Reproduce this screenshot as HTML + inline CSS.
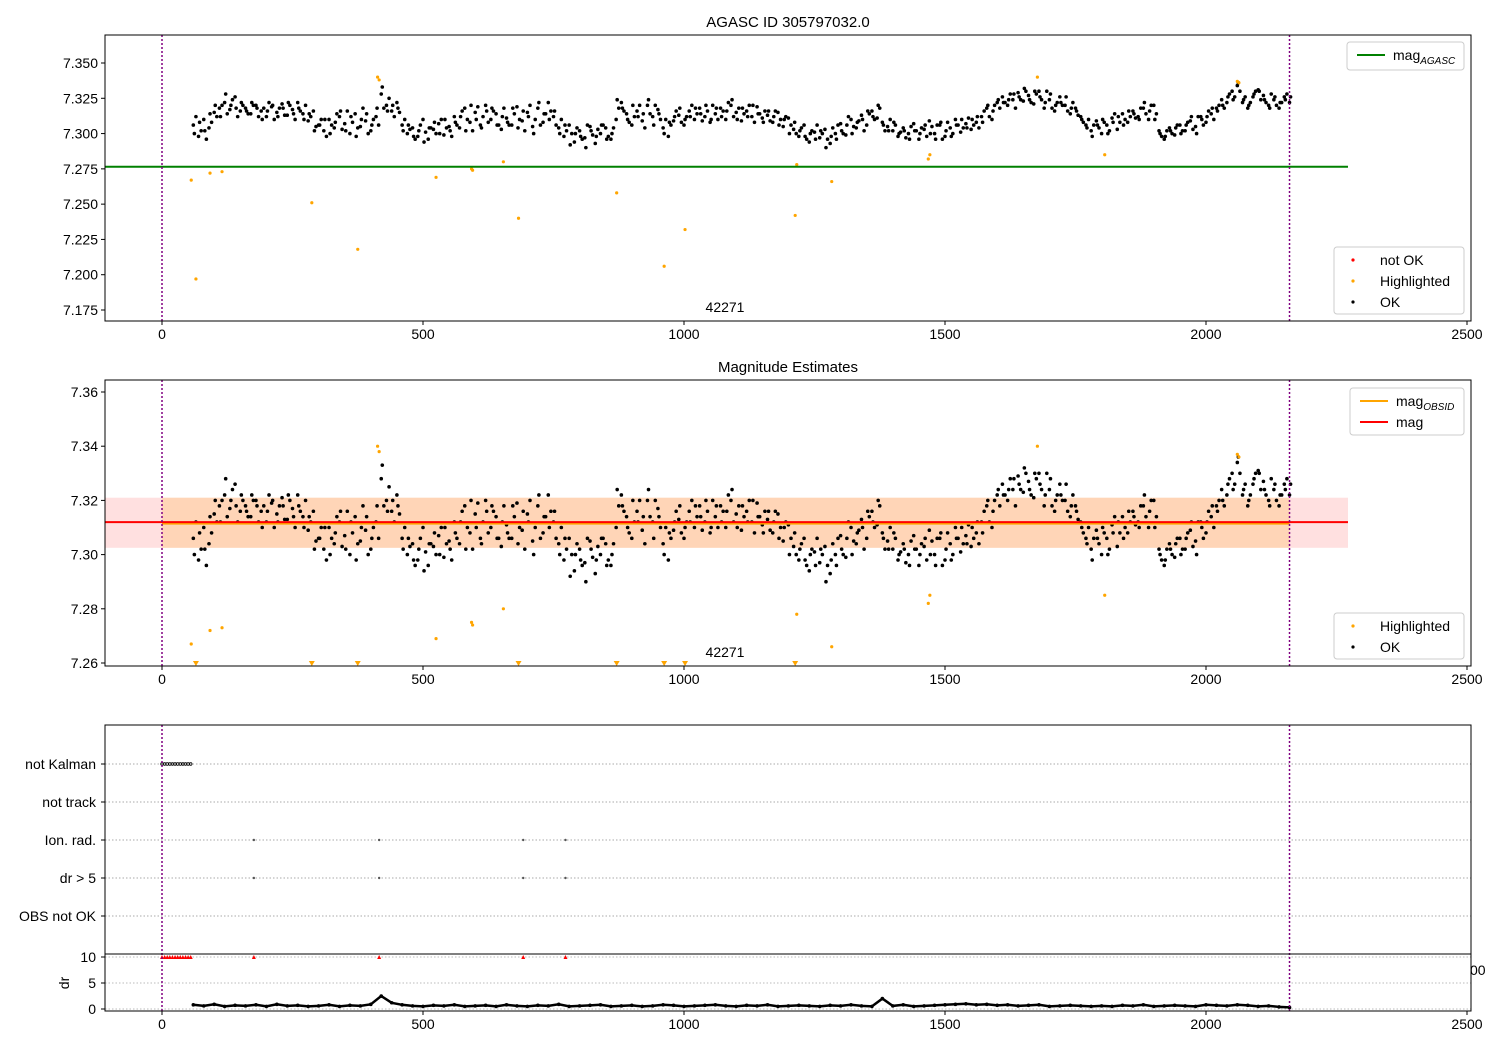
<!DOCTYPE html>
<html><head><meta charset="utf-8"><style>
body{margin:0;background:#fff}
svg text{font-family:"Liberation Sans","DejaVu Sans",sans-serif;font-size:14px;fill:#000}
</style></head><body>
<svg id="c" width="1500" height="1050" xmlns="http://www.w3.org/2000/svg"></svg>
<script>
const xsA0=60, xsB0=65, xsC0=62, xStep=10;
const magA=[7.306,7.298,7.310,7.304,7.315,7.318,7.322,7.317,7.326,7.316,
7.318,7.314,7.320,7.316,7.312,7.319,7.315,7.321,7.313,7.317,
7.322,7.314,7.309,7.316,7.306,7.302,7.310,7.304,7.312,7.307,
7.300,7.314,7.305,7.309,7.302,7.312,7.328,7.320,7.316,7.322,
7.306,7.300,7.304,7.298,7.310,7.296,7.303,7.307,7.299,7.305,
7.312,7.304,7.318,7.308,7.315,7.306,7.320,7.310,7.314,7.303,
7.311,7.306,7.319,7.309,7.315,7.305,7.318,7.308,7.322,7.312,
7.304,7.298,7.306,7.294,7.302,7.297,7.305,7.293,7.300,7.304,
7.296,7.310,7.322,7.314,7.306,7.316,7.309,7.320,7.312,7.317,
7.304,7.298,7.309,7.313,7.306,7.316,7.310,7.318,7.312,7.308,
7.314,7.318,7.310,7.320,7.315,7.309,7.316,7.312,7.319,7.311,
7.313,7.308,7.315,7.305,7.311,7.303,7.298,7.306,7.294,7.301,
7.297,7.303,7.293,7.300,7.307,7.299,7.310,7.304,7.313,7.306,
7.316,7.311,7.308,7.305,7.302,7.298,7.304,7.300,7.307,7.296,
7.303,7.309,7.300,7.306,7.298,7.304,7.310,7.301,7.307,7.303,
7.308,7.312,7.318,7.310,7.322,7.326,7.320,7.324,7.329,7.323,
7.327,7.321,7.330,7.318,7.324,7.316,7.326,7.320,7.314,7.318,
7.312,7.306,7.302,7.309,7.300,7.306,7.311,7.303,7.314,7.308,
7.316,7.312,7.318,7.310,7.320,7.302,7.296,7.304,7.299,7.306,
7.302,7.309,7.305,7.312,7.308,7.314,7.318,7.324,7.322,7.330,
7.334,7.322,7.318,7.326,7.331,7.327,7.320,7.324,7.318,7.326,7.322];
const magB=[7.312,7.302,7.296,7.308,7.312,7.320,7.314,7.324,7.312,7.320,
7.314,7.320,7.312,7.318,7.322,7.310,7.318,7.313,7.320,7.310,
7.316,7.320,7.312,7.305,7.310,7.298,7.306,7.314,7.303,7.316,
7.308,7.304,7.318,7.300,7.310,7.306,7.318,7.325,7.312,7.315,
7.310,7.303,7.296,7.306,7.301,7.304,7.300,7.310,7.304,7.298,
7.306,7.316,7.310,7.302,7.319,7.312,7.308,7.316,7.306,7.318,
7.306,7.314,7.310,7.302,7.320,7.310,7.306,7.314,7.316,7.306,
7.310,7.302,7.300,7.304,7.296,7.306,7.299,7.303,7.306,7.298,
7.304,7.318,7.316,7.308,7.312,7.320,7.304,7.314,7.320,7.310,
7.310,7.306,7.316,7.308,7.312,7.320,7.314,7.309,7.316,7.320,
7.310,7.316,7.322,7.312,7.318,7.314,7.320,7.308,7.314,7.316,
7.309,7.316,7.310,7.312,7.306,7.300,7.304,7.296,7.302,7.306,
7.300,7.296,7.304,7.306,7.300,7.312,7.305,7.309,7.302,7.314,
7.310,7.318,7.302,7.310,7.306,7.301,7.297,7.305,7.302,7.304,
7.298,7.305,7.306,7.296,7.308,7.300,7.306,7.304,7.311,7.306,
7.304,7.316,7.312,7.320,7.318,7.322,7.328,7.318,7.324,7.330,
7.322,7.328,7.324,7.330,7.318,7.322,7.320,7.316,7.322,7.313,
7.308,7.310,7.306,7.304,7.308,7.302,7.314,7.308,7.310,7.312,
7.311,7.318,7.314,7.320,7.314,7.298,7.302,7.300,7.306,7.302,
7.308,7.303,7.312,7.306,7.316,7.310,7.320,7.318,7.328,7.326,
7.330,7.326,7.322,7.330,7.324,7.322,7.328,7.320,7.322,7.328];
const magC=[7.300,7.308,7.302,7.314,7.320,7.312,7.328,7.320,7.318,7.322,
7.316,7.322,7.318,7.310,7.316,7.320,7.312,7.318,7.322,7.314,
7.318,7.310,7.314,7.302,7.306,7.310,7.300,7.308,7.316,7.302,
7.312,7.298,7.310,7.314,7.306,7.318,7.333,7.316,7.320,7.318,
7.302,7.306,7.298,7.302,7.294,7.304,7.308,7.300,7.310,7.302,
7.308,7.312,7.302,7.320,7.310,7.304,7.316,7.318,7.306,7.312,
7.308,7.318,7.304,7.316,7.312,7.300,7.322,7.314,7.310,7.316,
7.300,7.306,7.292,7.300,7.298,7.290,7.302,7.298,7.306,7.296,
7.300,7.324,7.318,7.310,7.320,7.312,7.314,7.324,7.306,7.314,
7.300,7.308,7.312,7.318,7.310,7.312,7.318,7.314,7.320,7.310,
7.318,7.312,7.316,7.324,7.310,7.318,7.312,7.320,7.314,7.308,
7.316,7.312,7.306,7.310,7.300,7.308,7.302,7.298,7.300,7.296,
7.302,7.290,7.298,7.296,7.302,7.306,7.300,7.308,7.310,7.316,
7.312,7.320,7.306,7.302,7.308,7.300,7.302,7.296,7.302,7.300,
7.306,7.300,7.296,7.308,7.302,7.298,7.306,7.310,7.304,7.310,
7.312,7.308,7.320,7.316,7.324,7.322,7.324,7.328,7.326,7.332,
7.324,7.330,7.326,7.322,7.328,7.320,7.322,7.326,7.318,7.316,
7.310,7.304,7.298,7.306,7.310,7.300,7.308,7.312,7.306,7.316,
7.314,7.310,7.322,7.316,7.310,7.300,7.298,7.302,7.304,7.300,
7.306,7.312,7.300,7.310,7.312,7.318,7.316,7.320,7.326,7.324,
7.336,7.324,7.320,7.328,7.330,7.324,7.318,7.326,7.322,7.324,7.326];
const hlX=[56,65,92,115,287,375,413,416,525,593,595,654,683,871,962,1002,1213,1216,1283,1468,1471,1677,1806,2060,2063];
const hlMag=[7.267,7.197,7.272,7.273,7.251,7.218,7.340,7.338,7.269,7.275,7.274,7.280,7.240,7.258,7.206,7.232,7.242,7.278,7.266,7.282,7.285,7.340,7.285,7.337,7.336];
const magAgasc=7.2765, magMean=7.312, magObsid=7.3115, bandLo=7.3025, bandHi=7.321;
const xTicks=[0,500,1000,1500,2000,2500];
const y1Ticks=[7.175,7.200,7.225,7.250,7.275,7.300,7.325,7.350];
const y2Ticks=[7.26,7.28,7.30,7.32,7.34,7.36];
const flagRows=["not Kalman","not track","Ion. rad.","dr > 5","OBS not OK"];
const kalmanX=[0,5,10,15,20,25,30,35,40,45,50,55];
const ionX=[176,416,692,773];
const drX0=60, drStep=20;
const drVals=[0.8,0.6,0.9,0.5,0.7,0.6,0.8,0.5,0.9,0.6,0.7,0.5,0.6,0.8,0.5,0.7,0.6,0.9,2.5,1.2,0.8,0.6,0.5,0.7,0.6,0.8,0.5,0.6,0.7,0.5,0.8,0.6,0.5,0.7,0.6,0.9,0.5,0.6,0.7,0.8,0.5,0.6,0.7,0.5,0.6,0.8,0.7,0.5,0.6,0.7,0.8,0.6,0.5,0.7,0.6,0.8,0.5,0.6,0.7,0.6,0.5,0.7,0.6,0.8,0.6,0.5,2.0,0.6,0.8,0.5,0.6,0.7,0.8,0.9,1.0,0.8,0.9,0.7,0.8,0.6,0.7,0.8,0.5,0.6,0.7,0.6,0.5,0.6,0.5,0.7,0.6,0.8,0.5,0.6,0.7,0.6,0.5,0.8,0.7,0.6,0.8,0.7,0.5,0.6,0.4,0.3];
const drYTicks=[10,5,0];

const svg=document.getElementById('c');
const NS='http://www.w3.org/2000/svg';
function mk(tag,at,parent){const e=document.createElementNS(NS,tag);for(const k in at)e.setAttribute(k,at[k]);(parent||svg).appendChild(e);return e;}
const L=105,R=1471;
const X=v=>162+v*0.522;
const Y1=v=>63+(7.350-v)*1411.4;
const Y2=v=>392+(7.36-v)*2710;
const Yd=v=>1009-v*5.2;
const xmaxLine=2272, xmin=-110;

function frame(top,bot,name){const r=mk('rect',{x:L,y:top,width:R-L,height:bot-top,fill:'none',stroke:'#000','stroke-width':1});
}
function xaxis(bot,name){const g=mk('g',{});
xTicks.forEach(t=>{mk('line',{x1:X(t),x2:X(t),y1:bot,y2:bot+4,stroke:'#000'},g);const tx=mk('text',{x:X(t),y:bot+18,'text-anchor':'middle'},g);tx.textContent=t;});}
function yaxis(ticks,Y,dec,name){const g=mk('g',{});
ticks.forEach(t=>{mk('line',{x1:L-4,x2:L,y1:Y(t),y2:Y(t),stroke:'#000'},g);const tx=mk('text',{x:L-7,y:Y(t)+5,'text-anchor':'end'},g);tx.textContent=t.toFixed(dec);});}
function vlines(top,bot){[0,2160].forEach(v=>{const l=mk('line',{x1:X(v),x2:X(v),y1:top,y2:bot,stroke:'#800080','stroke-width':1.5,'stroke-dasharray':'2,2'});
});}
function dot(x,y,r,fill,name,parent){const c=mk('circle',{cx:x,cy:y,r:r,fill:fill},parent);return c;}
function title(x,y,s,name){const t=mk('text',{x:x,y:y,'text-anchor':'middle',style:'font-size:15px'});t.textContent=s;}
function drawSeries(arr,x0,Y,g){arr.forEach((v,i)=>dot(X(x0+i*xStep),Y(v),1.8,'#000','ok-point',g));}

// ---- Plot 1
title(788,27,'AGASC ID 305797032.0','plot1-title');
const g1=mk('g',{});
const ga=mk('line',{x1:X(xmin),x2:X(xmaxLine),y1:Y1(magAgasc),y2:Y1(magAgasc),stroke:'#008000','stroke-width':2});

drawSeries(magA,xsA0,Y1,g1);drawSeries(magB,xsB0,Y1,g1);drawSeries(magC,xsC0,Y1,g1);
hlX.forEach((x,i)=>{if(Y1(hlMag[i])<321)dot(X(x),Y1(hlMag[i]),1.6,'#ffa500','highlighted-point',g1);});
vlines(35,321);
frame(35,321,'plot1-axes');xaxis(321,'plot1-x-axis');yaxis(y1Ticks,Y1,3,'plot1-y-axis');
let t=mk('text',{x:725,y:312,'text-anchor':'middle'});t.textContent='42271';

function legend(x,y,w,h,items,name){const g=mk('g',{});
mk('rect',{x:x,y:y,width:w,height:h,rx:3,fill:'#fff','fill-opacity':0.8,stroke:'#ccc'},g);
items.forEach((it,i)=>{const cy=y+13+i*21;
if(it.type==='line')mk('line',{x1:x+10,x2:x+38,y1:cy,y2:cy,stroke:it.color,'stroke-width':2},g);
else mk('circle',{cx:x+19,cy:cy,r:1.6,fill:it.color},g);
const tx=mk('text',{x:x+46,y:cy+5},g);tx.innerHTML=it.label;});}
legend(1347,42,117,28,[{type:'line',color:'#008000',label:'mag<tspan dy="4" font-style="italic" style="font-size:10px">AGASC</tspan>'}],'plot1-legend-mag');
legend(1334,247,130,67,[{type:'dot',color:'#ff0000',label:'not OK'},{type:'dot',color:'#ffa500',label:'Highlighted'},{type:'dot',color:'#000',label:'OK'}],'plot1-legend-points');

// ---- Plot 2
title(788,372,'Magnitude Estimates','plot2-title');
let b=mk('rect',{x:X(xmin),y:Y2(bandHi),width:X(xmaxLine)-X(xmin),height:Y2(bandLo)-Y2(bandHi),fill:'#ff0000','fill-opacity':0.12});

b=mk('rect',{x:X(0),y:Y2(bandHi),width:X(2160)-X(0),height:Y2(bandLo)-Y2(bandHi),fill:'#ffa500','fill-opacity':0.18});

const g2=mk('g',{});
drawSeries(magA,xsA0,Y2,g2);drawSeries(magB,xsB0,Y2,g2);drawSeries(magC,xsC0,Y2,g2);
hlX.forEach((x,i)=>{const y=Y2(hlMag[i]);
if(y<=663)dot(X(x),y,1.6,'#ffa500','highlighted-point',g2);
else{const p=mk('path',{d:`M${X(x)-3},${661} L${X(x)+3},${661} L${X(x)},${666} Z`,fill:'#ffa500'},g2);}});
let ln=mk('line',{x1:X(0),x2:X(2160),y1:Y2(magObsid),y2:Y2(magObsid),stroke:'#ffa500','stroke-width':2.5});
ln=mk('line',{x1:X(xmin),x2:X(xmaxLine),y1:Y2(magMean),y2:Y2(magMean),stroke:'#ff0000','stroke-width':2});
vlines(380,666);
frame(380,666,'plot2-axes');xaxis(666,'plot2-x-axis');yaxis(y2Ticks,Y2,2,'plot2-y-axis');
t=mk('text',{x:725,y:657,'text-anchor':'middle'});t.textContent='42271';
legend(1350,388,114,47,[{type:'line',color:'#ffa500',label:'mag<tspan dy="4" font-style="italic" style="font-size:10px">OBSID</tspan>'},{type:'line',color:'#ff0000',label:'mag'}],'plot2-legend-mag');
legend(1334,613,130,46,[{type:'dot',color:'#ffa500',label:'Highlighted'},{type:'dot',color:'#000',label:'OK'}],'plot2-legend-points');

// ---- Plot 3 flags
const rowY=i=>764+i*38;
const g3=mk('g',{});
flagRows.forEach((r,i)=>{mk('line',{x1:L,x2:R,y1:rowY(i),y2:rowY(i),stroke:'#aaa','stroke-dasharray':'1.5,2'},g3);
mk('line',{x1:L-4,x2:L,y1:rowY(i),y2:rowY(i),stroke:'#000'},g3);
const tx=mk('text',{x:96,y:rowY(i)+5,'text-anchor':'end'},g3);tx.textContent=r;});
kalmanX.forEach(x=>{const c=mk('circle',{cx:X(x),cy:rowY(0),r:1.3,fill:'none',stroke:'#000','stroke-width':0.8},g3);});
ionX.forEach(x=>{dot(X(x),rowY(2),1.2,'#555','ion-rad-point',g3);dot(X(x),rowY(3),1.2,'#555','dr5-point',g3);});
[10,5,0].forEach(v=>mk('line',{x1:L,x2:R,y1:Yd(v),y2:Yd(v),stroke:'#bbb','stroke-dasharray':'1.5,2'}));
const gd=mk('g',{});
let pts=drVals.map((v,i)=>X(drX0+i*drStep).toFixed(1)+','+Yd(v).toFixed(1)).join(' ');
const pl=mk('polyline',{points:pts,fill:'none',stroke:'#000','stroke-width':2.5},gd);
drVals.forEach((v,i)=>dot(X(drX0+i*drStep),Yd(v),1.8,'#000','dr-point',gd));
kalmanX.concat(ionX).forEach(x=>{const p=mk('path',{d:`M${X(x)-2},${Yd(10)+2} L${X(x)+2},${Yd(10)+2} L${X(x)},${Yd(10)-2} Z`,fill:'#ff0000'},gd);});
vlines(725,1011);
frame(725,1011,'flags-axes');
ln=mk('line',{x1:L,x2:R,y1:954,y2:954,stroke:'#000','stroke-width':1});
xaxis(1011,'flags-x-axis');
const gdy=mk('g',{});
drYTicks.forEach(v=>{mk('line',{x1:L-4,x2:L,y1:Yd(v),y2:Yd(v),stroke:'#000'},gdy);const tx=mk('text',{x:96,y:Yd(v)+5,'text-anchor':'end'},gdy);tx.textContent=v;});
t=mk('text',{x:0,y:0,transform:'translate(69,983) rotate(-90)','text-anchor':'middle'});t.textContent='dr';
t=mk('text',{x:1470,y:975});t.textContent='00';
</script>
</body></html>
